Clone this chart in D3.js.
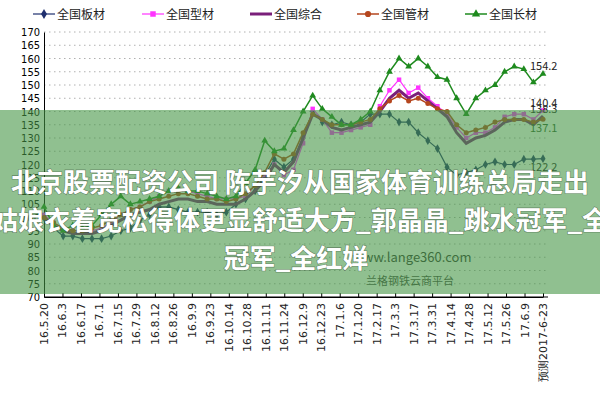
<!DOCTYPE html>
<html><head><meta charset="utf-8">
<script src="https://cdn.jsdelivr.net/npm/d3@7"></script>
<style>body{margin:0;background:#fff}svg{display:block;font-family:"Noto Sans CJK SC","DejaVu Sans",sans-serif}</style>
</head><body><svg id="c" width="600" height="400"></svg>
<script>
// tick labels (one every two weeks)
var tickLabels = ["16.5.20","16.6.3","16.6.17","16.7.1","16.7.15","16.7.29","16.8.12","16.8.26","16.9.9","16.9.23","16.10.14","16.10.28","16.11.11","16.11.24","16.12.9","16.12.23","17.1.6","17.1.20","17.2.17","17.3.3","17.3.17","17.3.31","17.4.14","17.4.28","17.5.12","17.5.26","17.6.9","预测2017-6-23"];
var plate = [100,96,93,93,92,92,92,93,95,96,99,101,104,104,103,102,102,102,101,102,105,107,110,116,122,119,122,130,140,136,135,136,135,136,139,139,139,136,136,132,129,126,119,116,117,118,120,121,120,120,122,122,122.2];
var section = [101,98,95,95,95,95,96,98,101,103,104,106,108,110,111,110,109,108,107,107,107,108,112,116,120,116,118,128,141,137,132,132,133,134,135,142,148,152,147,149,145,142,139,134,130,132,132,134,138,139,139,137,140.4];
var composite = [100,97,95,94,94,94,95,97,99,101,102,103,105,106,107,107,106,106,105,105,105,107,110,114,120,117,121,130,139,137,134,133,134,135,136,140,145,148,145,147,144,141,138,132,128,130,131,133,136,137,137,135,138.3];
var pipe = [100,98,96,95,95,96,97,99,101,103,104,106,107,108,109,109,108,107,107,106,107,109,112,117,124,122,124,132,139,137,135,135,135,136,137,141,144,146,144,145,143,141,140,135,132,133,134,136,137,137,137,136,137.1];
var longp = [104,97,95,97,96,97,101,105,108,105,106,107,108,110,111,110,110,109,108,107,108,113,118,129,125,126,133,140,146,141,138,135,135,137,140,148,155,160,157,160,157,153,152,145,139,145,148,150,155,157,156,151,154.2];

var series = [
  {name:"全国板材", data:plate, color:"#1f2f6e", marker:"diamond", w:1.2},
  {name:"全国型材", data:section, color:"#ff33ff", marker:"square", w:1.2},
  {name:"全国综合", data:composite, color:"#7a1f7a", marker:null, w:3},
  {name:"全国管材", data:pipe, color:"#b5461e", marker:"circle", w:1.5},
  {name:"全国长材", data:longp, color:"#1e8a1e", marker:"triangle", w:1.5}
];
var endLabels = [{t:"154.2",v:154.2,dy:-4},{t:"140.4",v:140.4,dy:-3},{t:"138.3",v:138.3,dy:-3},{t:"137.1",v:137.1,dy:13,c:"#2e5e2e"},{t:"122.2",v:122.2,dy:12}];

var svg = d3.select("#c");
var x = d3.scaleLinear().domain([0, 52]).range([44, 543]);
var xl = d3.scalePoint().domain(tickLabels).range([44, 543]);
var y = d3.scaleLinear().domain([70, 170]).range([297, 32]);

// grid
svg.append("g").selectAll("line").data(d3.range(75, 171, 5)).join("line")
  .attr("x1", 44).attr("x2", 548).attr("y1", d => y(d)).attr("y2", d => y(d))
  .attr("stroke", "#b0b0b0").attr("stroke-dasharray", "1.5,3.5");

var ya = svg.append("g").attr("transform", "translate(44,0)")
  .call(d3.axisLeft(y).tickValues(d3.range(70, 171, 5)).tickSize(0).tickPadding(4));
ya.select(".domain").attr("stroke", "#000");
ya.selectAll("text").attr("font-size", 11).attr("font-family", "Liberation Sans Narrow, DejaVu Sans Condensed, sans-serif");

var xa = svg.append("g").attr("transform", "translate(0,297)")
  .call(d3.axisBottom(xl).tickSizeInner(-4).tickSizeOuter(0).tickFormat(""));
xa.select(".domain").attr("stroke", "#000");
xa.append("line").attr("x1", 44).attr("x2", 548).attr("stroke", "#000");
svg.append("g").selectAll("text").data(tickLabels).join("text")
  .attr("transform", d => "translate(" + (xl(d) + 4) + ",303) rotate(-90)")
  .attr("text-anchor", "end").attr("font-size", 11).attr("fill", "#222")
  .attr("font-family", "DejaVu Sans, sans-serif").text(d => d);

var line = d3.line().x((d, i) => x(i)).y(d => y(d));
var sym = {diamond:d3.symbolDiamond, square:d3.symbolSquare, circle:d3.symbolCircle, triangle:d3.symbolTriangle};

series.forEach(function(s) {
  var g = svg.append("g");
  g.append("path").datum(s.data).attr("d", line).attr("fill", "none")
    .attr("stroke", s.color).attr("stroke-width", s.w);
  if (s.marker) {
    g.selectAll("path.m").data(s.data).join("path").attr("class", "m")
      .attr("transform", (d, i) => "translate(" + x(i) + "," + y(d) + ")")
      .attr("d", d3.symbol(sym[s.marker], s.marker == "diamond" ? 22 : 20)).attr("fill", s.color);
  }
});

svg.append("g").selectAll("text").data(endLabels).join("text")
  .attr("x", 530).attr("y", d => y(d.v) + d.dy).attr("font-size", 11)
  .attr("fill", d => d.c || "#222").text(d => d.t);

// legend
var lg = svg.append("g").selectAll("g").data(series).join("g")
  .attr("transform", (d, i) => "translate(" + [33, 142, 250, 357, 465][i] + ",14)");
lg.append("line").attr("x1", 0).attr("x2", 22).attr("stroke", d => d.color).attr("stroke-width", d => d.w);
lg.filter(d => d.marker).append("path").attr("transform", "translate(11,0)")
  .attr("d", d => d3.symbol(sym[d.marker], 30)()).attr("fill", d => d.color);
lg.append("text").attr("x", 24).attr("y", 4.5).attr("font-size", 12).attr("fill", "#222").text(d => d.name);

// watermark
svg.append("text").attr("x", 412).attr("y", 262).attr("text-anchor", "middle").attr("font-size", 13).attr("fill", "#333").text("www.lange360.com");
svg.append("text").attr("x", 410).attr("y", 285).attr("text-anchor", "middle").attr("font-size", 11).attr("fill", "#444").text("兰格钢铁云商平台");

// overlay banner
svg.append("rect").attr("x", 0).attr("y", 110).attr("width", 600).attr("height", 184).attr("fill", "rgba(70,150,70,0.6)");
var banner = ["北京股票配资公司 陈芋汐从国家体育训练总局走出", "姑娘衣着宽松得体更显舒适大方_郭晶晶_跳水冠军_全", "冠军_全红婵"];
svg.append("g").selectAll("text").data(banner).join("text")
  .attr("x", (d, i) => i == 2 ? 296 : 300).attr("y", (d, i) => 192 + i * 38).attr("text-anchor", "middle")
  .attr("font-size", 26).attr("font-weight", "bold").attr("fill", "#fff")
  .attr("stroke", "rgba(0,0,0,0.35)").attr("stroke-width", 1.2).attr("paint-order", "stroke")
  .text(d => d);
</script></body></html>
